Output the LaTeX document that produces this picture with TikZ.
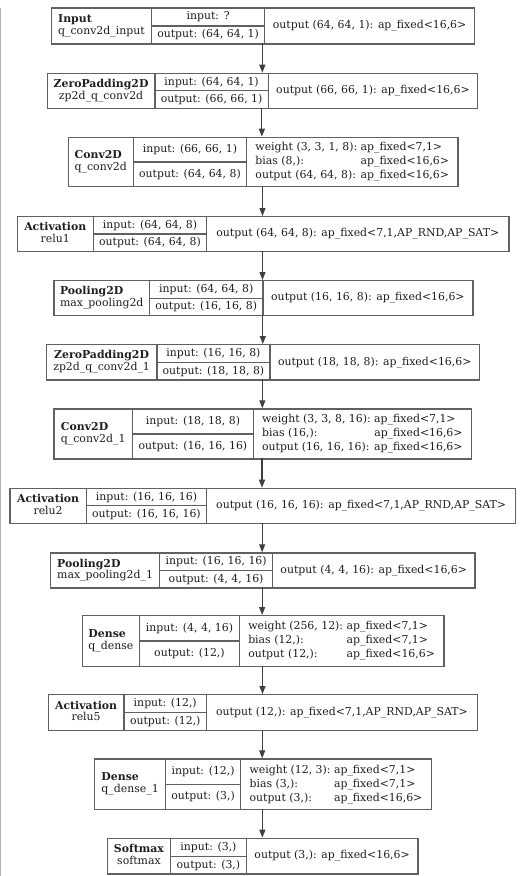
\documentclass[tikz,border=0pt]{standalone}
\usepackage{fontspec}
\setmainfont{DejaVu Serif}
\usetikzlibrary{arrows.meta}
\tikzset{
  cellbox/.style={draw=black!62, line width=1.2pt, inner sep=0pt, text=black!88,
    font=\fontsize{10.9}{11.2}\selectfont},
  layerbox/.style={inner sep=0pt, outer sep=0pt},
  arr/.style={draw=black!75, line width=1.2pt, -{Triangle[width=6pt,length=8pt]}},
}
\def\parsecoords#1,#2,#3,#4,#5,#6\relax{\def\xA{#1}\def\xB{#2}\def\xC{#3}\def\xD{#4}\def\yA{#5}\def\yB{#6}}
% #1 name, #2 coords, #3 align, #4 class, #5 layer name, #6 input, #7 output, #8 right text
\newcommand{\layer}[8]{%
  \parsecoords#2\relax
  \pgfmathsetmacro\yM{(\yA+\yB)/2}%
  \pgfmathsetmacro\wL{\xB-\xA}%
  \pgfmathsetmacro\wM{\xC-\xB}%
  \pgfmathsetmacro\wR{\xD-\xC}%
  \pgfmathsetmacro\wT{\xD-\xA}%
  \pgfmathsetmacro\hT{\yB-\yA}%
  \pgfmathsetmacro\hH{\yM-\yA}%
  \node[cellbox, minimum width=\wL pt, minimum height=\hT pt, anchor=north west] (#1-cls) at (\xA,\yA)
    {\begin{tabular}{@{}#3@{}}\textbf{#4}\\#5\end{tabular}};
  \node[cellbox, minimum width=\wM pt, minimum height=\hH pt, anchor=north west] (#1-in) at (\xB,\yA) {#6};
  \node[cellbox, minimum width=\wM pt, minimum height=\hH pt, anchor=north west] (#1-out) at (\xB,\yM) {#7};
  \node[cellbox, minimum width=\wR pt, minimum height=\hT pt, anchor=north west] (#1-ty) at (\xC,\yA) {#8};
  \node[layerbox, minimum width=\wT pt, minimum height=\hT pt, anchor=north west] (#1) at (\xA,\yA) {};
}
\newcommand{\three}[6]{{\renewcommand\arraystretch{1.25}\begin{tabular}{@{}l@{\ }l@{}}#1&#2\\#3&#4\\#5&#6\end{tabular}}}
\begin{document}
\begin{tikzpicture}[x=1pt,y=-1pt]
\useasboundingbox (0,0) rectangle (520,876);
\fill[white] (0,0) rectangle (520,876);
\draw[black!30, line width=1.2pt] (0.6,8) -- (0.6,876);

\layer{L1}{50.7,151,264,474,7.3,43.3}{l}{Input}{q\_conv2d\_input}{input: ?}{output: (64, 64, 1)}{output (64, 64, 1): ap\_fixed<16,6>}
\layer{L2}{46.7,154.3,267.7,477,72.7,107.7}{c}{ZeroPadding2D}{zp2d\_q\_conv2d}{input: (64, 64, 1)}{output: (66, 66, 1)}{output (66, 66, 1): ap\_fixed<16,6>}
\layer{L3}{67.7,132.7,246,457.3,136.7,186}{l}{Conv2D}{q\_conv2d}{input: (66, 66, 1)}{output: (64, 64, 8)}{\three{weight (3, 3, 1, 8):}{ap\_fixed<7,1>}{bias (8,):}{ap\_fixed<16,6>}{output (64, 64, 8):}{ap\_fixed<16,6>}}
\layer{L4}{16.7,92.7,206,508.3,216,250.7}{c}{Activation}{relu1}{input: (64, 64, 8)}{output: (64, 64, 8)}{output (64, 64, 8): ap\_fixed<7,1,AP\_RND,AP\_SAT>}
\layer{L5}{53.3,149,262.3,472.3,280,315}{l}{Pooling2D}{max\_pooling2d}{input: (64, 64, 8)}{output: (16, 16, 8)}{output (16, 16, 8): ap\_fixed<16,6>}
\layer{L6}{45.7,156.3,269.3,479,344,379.3}{c}{ZeroPadding2D}{zp2d\_q\_conv2d\_1}{input: (16, 16, 8)}{output: (18, 18, 8)}{output (18, 18, 8): ap\_fixed<16,6>}
\layer{L7}{53.3,132,252.7,470.7,408.3,458.3}{l}{Conv2D}{q\_conv2d\_1}{input: (18, 18, 8)}{output: (16, 16, 16)}{\three{weight (3, 3, 8, 16):}{ap\_fixed<7,1>}{bias (16,):}{ap\_fixed<16,6>}{output (16, 16, 16):}{ap\_fixed<16,6>}}
\layer{L8}{9.3,85.7,206,515,487.7,522.7}{c}{Activation}{relu2}{input: (16, 16, 16)}{output: (16, 16, 16)}{output (16, 16, 16): ap\_fixed<7,1,AP\_RND,AP\_SAT>}
\layer{L9}{50,159,272,474.3,552.3,587.3}{l}{Pooling2D}{max\_pooling2d\_1}{input: (16, 16, 16)}{output: (4, 4, 16)}{output (4, 4, 16): ap\_fixed<16,6>}
\layer{L10}{81.7,139,238.7,443.3,615,665.7}{l}{Dense}{q\_dense}{input: (4, 4, 16)}{output: (12,)}{\three{weight (256, 12):}{ap\_fixed<7,1>}{bias (12,):}{ap\_fixed<7,1>}{output (12,):}{ap\_fixed<16,6>}}
\layer{L11}{47.7,123.3,206,476.7,694,730}{c}{Activation}{relu5}{input: (12,)}{output: (12,)}{output (12,): ap\_fixed<7,1,AP\_RND,AP\_SAT>}
\layer{L12}{94,165,240,430.7,758.3,809}{l}{Dense}{q\_dense\_1}{input: (12,)}{output: (3,)}{\three{weight (12, 3):}{ap\_fixed<7,1>}{bias (3,):}{ap\_fixed<7,1>}{output (3,):}{ap\_fixed<16,6>}}
\layer{L13}{106.7,170,245.7,417.3,837.7,873.3}{c}{Softmax}{softmax}{input: (3,)}{output: (3,)}{output (3,): ap\_fixed<16,6>}

\foreach \a/\b in {L1/L2,L2/L3,L3/L4,L4/L5,L5/L6,L6/L7,L7/L8,L8/L9,L9/L10,L10/L11,L11/L12,L12/L13}
  \draw[arr] (\a.south) -- (\a.south |- \b.north);
\end{tikzpicture}
\end{document}
